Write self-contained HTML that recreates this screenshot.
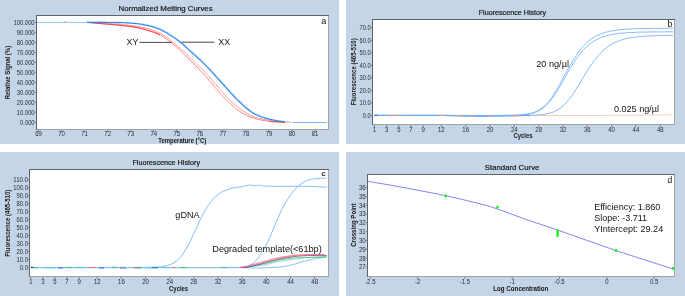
<!DOCTYPE html>
<html><head><meta charset="utf-8"><style>
html,body{margin:0;padding:0;background:#fff;}
body{width:685px;height:296px;overflow:hidden;font-family:"Liberation Sans", sans-serif;}
svg{display:block;will-change:transform;}
</style></head><body>
<svg width="685" height="296" viewBox="0 0 685 296" font-family='"Liberation Sans", sans-serif'>
<rect width="685" height="296" fill="#fff"/>
<rect x="0" y="0" width="339" height="144" fill="#c4d5e7"/>
<rect x="346" y="0" width="339" height="144" fill="#c4d5e7"/>
<rect x="0" y="152" width="339" height="144" fill="#c4d5e7"/>
<rect x="346" y="152" width="339" height="144" fill="#c4d5e7"/>
<text x="165.60" y="11.20" font-size="7.40" text-anchor="middle" font-weight="normal" fill="#141414" textLength="94.00" lengthAdjust="spacingAndGlyphs" stroke="#141414" stroke-width="0.18">Normalized Melting Curves</text>
<rect x="36" y="15" width="293" height="115" fill="#fff"/>
<path d="M36.0,15.5 H329.0 M36.5,15.0 V130.0" stroke="#5f6266" stroke-width="1" fill="none"/>
<path d="M37.0,129.5 H329.0 M328.5,16.0 V130.0" stroke="#a0a2a6" stroke-width="1" fill="none"/>
<path d="M34.5,22.40 H36.5 M34.5,32.38 H36.5 M34.5,42.36 H36.5 M34.5,52.34 H36.5 M34.5,62.32 H36.5 M34.5,72.30 H36.5 M34.5,82.28 H36.5 M34.5,92.26 H36.5 M34.5,102.24 H36.5 M34.5,112.22 H36.5 M34.5,122.20 H36.5 " stroke="#707070" stroke-width="0.8"/>
<text x="34.60" y="24.70" font-size="6.40" text-anchor="end" font-weight="normal" fill="#2a2d33" textLength="20.96" lengthAdjust="spacingAndGlyphs">100.000</text>
<text x="34.60" y="34.68" font-size="6.40" text-anchor="end" font-weight="normal" fill="#2a2d33" textLength="17.74" lengthAdjust="spacingAndGlyphs">90.000</text>
<text x="34.60" y="44.66" font-size="6.40" text-anchor="end" font-weight="normal" fill="#2a2d33" textLength="17.74" lengthAdjust="spacingAndGlyphs">80.000</text>
<text x="34.60" y="54.64" font-size="6.40" text-anchor="end" font-weight="normal" fill="#2a2d33" textLength="17.74" lengthAdjust="spacingAndGlyphs">70.000</text>
<text x="34.60" y="64.62" font-size="6.40" text-anchor="end" font-weight="normal" fill="#2a2d33" textLength="17.74" lengthAdjust="spacingAndGlyphs">60.000</text>
<text x="34.60" y="74.60" font-size="6.40" text-anchor="end" font-weight="normal" fill="#2a2d33" textLength="17.74" lengthAdjust="spacingAndGlyphs">50.000</text>
<text x="34.60" y="84.58" font-size="6.40" text-anchor="end" font-weight="normal" fill="#2a2d33" textLength="17.74" lengthAdjust="spacingAndGlyphs">40.000</text>
<text x="34.60" y="94.56" font-size="6.40" text-anchor="end" font-weight="normal" fill="#2a2d33" textLength="17.74" lengthAdjust="spacingAndGlyphs">30.000</text>
<text x="34.60" y="104.54" font-size="6.40" text-anchor="end" font-weight="normal" fill="#2a2d33" textLength="17.74" lengthAdjust="spacingAndGlyphs">20.000</text>
<text x="34.60" y="114.52" font-size="6.40" text-anchor="end" font-weight="normal" fill="#2a2d33" textLength="17.74" lengthAdjust="spacingAndGlyphs">10.000</text>
<text x="34.60" y="124.50" font-size="6.40" text-anchor="end" font-weight="normal" fill="#2a2d33" textLength="14.51" lengthAdjust="spacingAndGlyphs">0.000</text>
<path d="M38.50,130.0 V132.0 M61.55,130.0 V132.0 M84.60,130.0 V132.0 M107.65,130.0 V132.0 M130.70,130.0 V132.0 M153.75,130.0 V132.0 M176.80,130.0 V132.0 M199.85,130.0 V132.0 M222.90,130.0 V132.0 M245.95,130.0 V132.0 M269.00,130.0 V132.0 M292.05,130.0 V132.0 M315.10,130.0 V132.0 " stroke="#707070" stroke-width="0.8"/>
<text x="38.50" y="136.40" font-size="7.00" text-anchor="middle" font-weight="normal" fill="#2a2d33" textLength="6.67" lengthAdjust="spacingAndGlyphs">69</text>
<text x="61.55" y="136.40" font-size="7.00" text-anchor="middle" font-weight="normal" fill="#2a2d33" textLength="6.67" lengthAdjust="spacingAndGlyphs">70</text>
<text x="84.60" y="136.40" font-size="7.00" text-anchor="middle" font-weight="normal" fill="#2a2d33" textLength="6.67" lengthAdjust="spacingAndGlyphs">71</text>
<text x="107.65" y="136.40" font-size="7.00" text-anchor="middle" font-weight="normal" fill="#2a2d33" textLength="6.67" lengthAdjust="spacingAndGlyphs">72</text>
<text x="130.70" y="136.40" font-size="7.00" text-anchor="middle" font-weight="normal" fill="#2a2d33" textLength="6.67" lengthAdjust="spacingAndGlyphs">73</text>
<text x="153.75" y="136.40" font-size="7.00" text-anchor="middle" font-weight="normal" fill="#2a2d33" textLength="6.67" lengthAdjust="spacingAndGlyphs">74</text>
<text x="176.80" y="136.40" font-size="7.00" text-anchor="middle" font-weight="normal" fill="#2a2d33" textLength="6.67" lengthAdjust="spacingAndGlyphs">75</text>
<text x="199.85" y="136.40" font-size="7.00" text-anchor="middle" font-weight="normal" fill="#2a2d33" textLength="6.67" lengthAdjust="spacingAndGlyphs">76</text>
<text x="222.90" y="136.40" font-size="7.00" text-anchor="middle" font-weight="normal" fill="#2a2d33" textLength="6.67" lengthAdjust="spacingAndGlyphs">77</text>
<text x="245.95" y="136.40" font-size="7.00" text-anchor="middle" font-weight="normal" fill="#2a2d33" textLength="6.67" lengthAdjust="spacingAndGlyphs">78</text>
<text x="269.00" y="136.40" font-size="7.00" text-anchor="middle" font-weight="normal" fill="#2a2d33" textLength="6.67" lengthAdjust="spacingAndGlyphs">79</text>
<text x="292.05" y="136.40" font-size="7.00" text-anchor="middle" font-weight="normal" fill="#2a2d33" textLength="6.67" lengthAdjust="spacingAndGlyphs">80</text>
<text x="315.10" y="136.40" font-size="7.00" text-anchor="middle" font-weight="normal" fill="#2a2d33" textLength="6.67" lengthAdjust="spacingAndGlyphs">81</text>
<text x="182.30" y="142.60" font-size="6.40" text-anchor="middle" font-weight="bold" fill="#141414" textLength="48.00" lengthAdjust="spacingAndGlyphs">Temperature (°C)</text>
<text transform="translate(10.00,72.60) rotate(-90)" x="0" y="0" font-size="7.00" text-anchor="middle" font-weight="bold" fill="#141414" textLength="53.50" lengthAdjust="spacingAndGlyphs">Relative Signal (%)</text>
<text x="326.20" y="23.60" font-size="9.00" text-anchor="end" font-weight="normal" fill="#141414">a</text>
<path d="M37,22.4 H88" stroke="#8ec3f5" stroke-width="1" fill="none"/>
<path d="M64.3,21.8 H66" stroke="#f08080" stroke-width="0.8" fill="none"/>
<path d="M87.0,22.4 L88.0,22.5 L89.0,22.6 L90.0,22.6 L91.0,22.7 L92.0,22.8 L93.0,22.9 L94.0,23.0 L95.0,23.1 L96.0,23.2 L97.0,23.2 L98.0,23.3 L99.0,23.4 L100.0,23.5 L101.0,23.6 L102.0,23.7 L103.0,23.8 L104.0,23.8 L105.0,23.9 L106.0,24.0 L107.0,24.1 L108.0,24.2 L109.0,24.3 L110.0,24.4 L111.0,24.4 L112.0,24.5 L113.0,24.6 L114.0,24.7 L115.0,24.8 L116.0,24.9 L117.0,25.0 L118.0,25.1 L119.0,25.2 L120.0,25.3 L121.0,25.4 L122.0,25.5 L123.0,25.6 L124.0,25.7 L125.0,25.8 L126.0,25.9 L127.0,26.1 L128.0,26.2 L129.0,26.3 L130.0,26.4 L131.0,26.6 L132.0,26.7 L133.0,26.9 L134.0,27.0 L135.0,27.2 L136.0,27.4 L137.0,27.6 L138.0,27.8 L139.0,28.0 L140.0,28.2 L141.0,28.4 L142.0,28.7 L143.0,29.0 L144.0,29.2 L145.0,29.5 L146.0,29.8 L147.0,30.1 L148.0,30.4 L149.0,30.7 L150.0,31.0 L151.0,31.3 L152.0,31.6 L153.0,32.0 L154.0,32.3 L155.0,32.7 L156.0,33.1 L157.0,33.5 L158.0,34.0 L159.0,34.4 L160.0,34.9 L161.0,35.4 L162.0,36.0 L163.0,36.7 L164.0,37.4 L165.0,38.1 L166.0,38.8 L167.0,39.6 L168.0,40.3 L169.0,41.0 L170.0,41.8 L171.0,42.6 L172.0,43.4 L173.0,44.3 L174.0,45.1 L175.0,46.0 L176.0,46.8 L177.0,47.7 L178.0,48.6 L179.0,49.5 L180.0,50.5 L181.0,51.4 L182.0,52.4 L183.0,53.3 L184.0,54.3 L185.0,55.3 L186.0,56.2 L187.0,57.2 L188.0,58.2 L189.0,59.1 L190.0,60.1 L191.0,61.0 L192.0,62.0 L193.0,63.0 L194.0,64.0 L195.0,65.0 L196.0,66.0 L197.0,67.0 L198.0,68.1 L199.0,69.1 L200.0,70.2 L201.0,71.2 L202.0,72.3 L203.0,73.4 L204.0,74.5 L205.0,75.6 L206.0,76.7 L207.0,77.9 L208.0,79.0 L209.0,80.2 L210.0,81.4 L211.0,82.5 L212.0,83.7 L213.0,84.9 L214.0,86.1 L215.0,87.3 L216.0,88.5 L217.0,89.7 L218.0,90.9 L219.0,92.0 L220.0,93.2 L221.0,94.3 L222.0,95.3 L223.0,96.4 L224.0,97.4 L225.0,98.5 L226.0,99.5 L227.0,100.5 L228.0,101.4 L229.0,102.4 L230.0,103.3 L231.0,104.3 L232.0,105.2 L233.0,106.1 L234.0,107.0 L235.0,107.8 L236.0,108.6 L237.0,109.3 L238.0,110.1 L239.0,110.8 L240.0,111.5 L241.0,112.1 L242.0,112.8 L243.0,113.4 L244.0,113.9 L245.0,114.5 L246.0,114.9 L247.0,115.4 L248.0,115.9 L249.0,116.3 L250.0,116.8 L251.0,117.2 L252.0,117.5 L253.0,117.9 L254.0,118.2 L255.0,118.5 L256.0,118.8 L257.0,119.1 L258.0,119.3 L259.0,119.6 L260.0,119.8 L261.0,120.0 L262.0,120.2 L263.0,120.4 L264.0,120.6 L265.0,120.7 L266.0,120.9 L267.0,121.0 L268.0,121.2 L269.0,121.3 L270.0,121.4 L271.0,121.5 L272.0,121.7 L273.0,121.8 L274.0,121.8 L275.0,121.9 L276.0,121.9 L277.0,122.0 L278.0,122.0 L279.0,122.0 L280.0,122.0 L281.0,122.1 L282.0,122.1 L283.0,122.1 L284.0,122.1 L285.0,122.2 L286.0,122.2 L287.0,122.2 L288.0,122.2 L289.0,122.2 L290.0,122.2 L291.0,122.2" stroke="#ff7070" stroke-width="0.85" fill="none"/>
<path d="M87.0,22.4 L88.0,22.4 L89.0,22.5 L90.0,22.5 L91.0,22.6 L92.0,22.6 L93.0,22.6 L94.0,22.7 L95.0,22.8 L96.0,22.8 L97.0,22.8 L98.0,22.9 L99.0,22.9 L100.0,23.0 L101.0,23.1 L102.0,23.1 L103.0,23.2 L104.0,23.2 L105.0,23.3 L106.0,23.3 L107.0,23.4 L108.0,23.4 L109.0,23.5 L110.0,23.6 L111.0,23.6 L112.0,23.7 L113.0,23.8 L114.0,23.8 L115.0,23.9 L116.0,24.0 L117.0,24.1 L118.0,24.1 L119.0,24.2 L120.0,24.3 L121.0,24.4 L122.0,24.5 L123.0,24.6 L124.0,24.7 L125.0,24.8 L126.0,24.9 L127.0,25.0 L128.0,25.1 L129.0,25.2 L130.0,25.3 L131.0,25.4 L132.0,25.6 L133.0,25.7 L134.0,25.9 L135.0,26.0 L136.0,26.1 L137.0,26.3 L138.0,26.5 L139.0,26.7 L140.0,26.9 L141.0,27.1 L142.0,27.3 L143.0,27.5 L144.0,27.7 L145.0,28.0 L146.0,28.2 L147.0,28.5 L148.0,28.7 L149.0,29.0 L150.0,29.3 L151.0,29.6 L152.0,29.9 L153.0,30.3 L154.0,30.7 L155.0,31.1 L156.0,31.5 L157.0,32.0 L158.0,32.4 L159.0,32.9 L160.0,33.4 L161.0,33.9 L162.0,34.5 L163.0,35.1 L164.0,35.7 L165.0,36.4 L166.0,37.0 L167.0,37.7 L168.0,38.5 L169.0,39.2 L170.0,39.9 L171.0,40.6 L172.0,41.4 L173.0,42.2 L174.0,43.0 L175.0,43.9 L176.0,44.7 L177.0,45.6 L178.0,46.5 L179.0,47.4 L180.0,48.2 L181.0,49.1 L182.0,50.0 L183.0,50.9 L184.0,51.8 L185.0,52.6 L186.0,53.6 L187.0,54.5 L188.0,55.4 L189.0,56.3 L190.0,57.3 L191.0,58.3 L192.0,59.3 L193.0,60.3 L194.0,61.3 L195.0,62.3 L196.0,63.3 L197.0,64.3 L198.0,65.2 L199.0,66.2 L200.0,67.2 L201.0,68.2 L202.0,69.2 L203.0,70.2 L204.0,71.2 L205.0,72.3 L206.0,73.4 L207.0,74.5 L208.0,75.6 L209.0,76.7 L210.0,77.8 L211.0,79.0 L212.0,80.1 L213.0,81.3 L214.0,82.4 L215.0,83.6 L216.0,84.8 L217.0,86.0 L218.0,87.2 L219.0,88.3 L220.0,89.5 L221.0,90.6 L222.0,91.7 L223.0,92.8 L224.0,94.0 L225.0,95.1 L226.0,96.1 L227.0,97.2 L228.0,98.2 L229.0,99.2 L230.0,100.1 L231.0,101.0 L232.0,101.9 L233.0,102.8 L234.0,103.7 L235.0,104.5 L236.0,105.3 L237.0,106.2 L238.0,107.0 L239.0,107.8 L240.0,108.6 L241.0,109.4 L242.0,110.1 L243.0,110.8 L244.0,111.5 L245.0,112.1 L246.0,112.7 L247.0,113.3 L248.0,113.8 L249.0,114.3 L250.0,114.9 L251.0,115.3 L252.0,115.8 L253.0,116.2 L254.0,116.6 L255.0,117.0 L256.0,117.3 L257.0,117.7 L258.0,118.0 L259.0,118.3 L260.0,118.5 L261.0,118.8 L262.0,119.0 L263.0,119.3 L264.0,119.5 L265.0,119.7 L266.0,119.9 L267.0,120.1 L268.0,120.3 L269.0,120.5 L270.0,120.7 L271.0,120.8 L272.0,121.0 L273.0,121.1 L274.0,121.3 L275.0,121.4 L276.0,121.4 L277.0,121.5 L278.0,121.6 L279.0,121.7 L280.0,121.7 L281.0,121.8 L282.0,121.8 L283.0,121.9 L284.0,121.9 L285.0,122.0 L286.0,122.0 L287.0,122.0 L288.0,122.1 L289.0,122.1" stroke="#ff8a8a" stroke-width="0.85" fill="none"/>
<path d="M270,121.3 Q278,122.1 285,122.2" stroke="#f03030" stroke-width="0.8" fill="none"/>
<path d="M87.0,22.4 L88.0,22.5 L89.0,22.6 L90.0,22.6 L91.0,22.7 L92.0,22.8 L93.0,22.9 L94.0,23.0 L95.0,23.1 L96.0,23.2 L97.0,23.2 L98.0,23.3 L99.0,23.4 L100.0,23.5 L101.0,23.6 L102.0,23.7 L103.0,23.8 L104.0,23.8 L105.0,23.9 L106.0,24.0 L107.0,24.1 L108.0,24.2 L109.0,24.3 L110.0,24.4 L111.0,24.4 L112.0,24.5 L113.0,24.6 L114.0,24.7 L115.0,24.8 L116.0,24.9 L117.0,25.0 L118.0,25.1 L119.0,25.2 L120.0,25.3 L121.0,25.4 L122.0,25.5 L123.0,25.6 L124.0,25.7 L125.0,25.8 L126.0,25.9 L127.0,26.1 L128.0,26.2 L129.0,26.3 L130.0,26.4 L131.0,26.6 L132.0,26.7 L133.0,26.9 L134.0,27.0 L135.0,27.2 L136.0,27.4 L137.0,27.6 L138.0,27.8 L139.0,28.0 L140.0,28.2 L141.0,28.4 L142.0,28.7 L143.0,29.0 L144.0,29.2 L145.0,29.5 L146.0,29.8 L147.0,30.1 L148.0,30.4 L149.0,30.7 L150.0,31.0 L151.0,31.3 L152.0,31.6 L153.0,32.0 L154.0,32.3 L155.0,32.7 L156.0,33.1 L157.0,33.5 L158.0,34.0 L159.0,34.4 L160.0,34.9" stroke="#ff3a3a" stroke-width="0.9" fill="none"/>
<path d="M88.3,22.1 L89.3,22.1 L90.3,22.1 L91.3,22.1 L92.3,22.1 L93.3,22.1 L94.3,22.1 L95.3,22.1 L96.3,22.1 L97.3,22.1 L98.3,22.1 L99.3,22.1 L100.3,22.1 L101.3,22.1 L102.3,22.1 L103.3,22.1 L104.3,22.1 L105.3,22.1 L106.3,22.1 L107.3,22.1 L108.3,22.2 L109.3,22.2 L110.3,22.2 L111.3,22.2 L112.3,22.2 L113.3,22.2 L114.3,22.2 L115.3,22.2 L116.3,22.2 L117.3,22.2 L118.3,22.2 L119.3,22.3 L120.3,22.3 L121.3,22.3 L122.3,22.3 L123.3,22.3 L124.3,22.4 L125.3,22.4 L126.3,22.5 L127.3,22.5 L128.3,22.6 L129.3,22.6 L130.3,22.7 L131.3,22.8 L132.3,22.9 L133.3,22.9 L134.3,23.0 L135.3,23.1 L136.3,23.2 L137.3,23.3 L138.3,23.4 L139.3,23.5 L140.3,23.7 L141.3,23.8 L142.3,24.0 L143.3,24.1 L144.3,24.3 L145.3,24.5 L146.3,24.7 L147.3,24.9 L148.3,25.1 L149.3,25.3 L150.3,25.6 L151.3,25.8 L152.3,26.0 L153.3,26.3 L154.3,26.6 L155.3,26.9 L156.3,27.2 L157.3,27.6 L158.3,27.9 L159.3,28.3 L160.3,28.7 L161.3,29.1 L162.3,29.6 L163.3,30.1 L164.3,30.6 L165.3,31.2 L166.3,31.7 L167.3,32.3 L168.3,32.9 L169.3,33.5 L170.3,34.1 L171.3,34.8 L172.3,35.4 L173.3,36.1 L174.3,36.8 L175.3,37.4 L176.3,38.1 L177.3,38.8 L178.3,39.5 L179.3,40.2 L180.3,41.0 L181.3,41.7 L182.3,42.5 L183.3,43.3 L184.3,44.2 L185.3,45.1 L186.3,46.0 L187.3,46.9 L188.3,47.9 L189.3,48.8 L190.3,49.8 L191.3,50.7 L192.3,51.6 L193.3,52.5 L194.3,53.4 L195.3,54.2 L196.3,55.1 L197.3,56.0 L198.3,56.9 L199.3,57.8 L200.3,58.7 L201.3,59.6 L202.3,60.6 L203.3,61.5 L204.3,62.5 L205.3,63.5 L206.3,64.5 L207.3,65.5 L208.3,66.5 L209.3,67.6 L210.3,68.6 L211.3,69.7 L212.3,70.8 L213.3,71.9 L214.3,73.0 L215.3,74.1 L216.3,75.2 L217.3,76.3 L218.3,77.4 L219.3,78.5 L220.3,79.6 L221.3,80.7 L222.3,81.8 L223.3,82.9 L224.3,84.0 L225.3,85.2 L226.3,86.3 L227.3,87.4 L228.3,88.5 L229.3,89.6 L230.3,90.7 L231.3,91.9 L232.3,93.0 L233.3,94.1 L234.3,95.1 L235.3,96.2 L236.3,97.2 L237.3,98.3 L238.3,99.3 L239.3,100.3 L240.3,101.2 L241.3,102.2 L242.3,103.1 L243.3,104.1 L244.3,105.0 L245.3,105.8 L246.3,106.7 L247.3,107.5 L248.3,108.4 L249.3,109.2 L250.3,110.0 L251.3,110.8 L252.3,111.5 L253.3,112.1 L254.3,112.7 L255.3,113.3 L256.3,113.9 L257.3,114.4 L258.3,114.8 L259.3,115.3 L260.3,115.7 L261.3,116.1 L262.3,116.5 L263.3,116.8 L264.3,117.2 L265.3,117.5 L266.3,117.8 L267.3,118.1 L268.3,118.3 L269.3,118.6 L270.3,118.9 L271.3,119.1 L272.3,119.3 L273.3,119.5 L274.3,119.7 L275.3,119.9 L276.3,120.1 L277.3,120.3 L278.3,120.5 L279.3,120.6 L280.3,120.8 L281.3,120.9 L282.3,121.0 L283.3,121.2" stroke="#acd2fa" stroke-width="0.9" fill="none"/>
<path d="M87.0,22.4 L88.0,22.4 L89.0,22.4 L90.0,22.4 L91.0,22.4 L92.0,22.4 L93.0,22.4 L94.0,22.4 L95.0,22.4 L96.0,22.4 L97.0,22.4 L98.0,22.4 L99.0,22.4 L100.0,22.4 L101.0,22.4 L102.0,22.4 L103.0,22.4 L104.0,22.4 L105.0,22.4 L106.0,22.4 L107.0,22.5 L108.0,22.5 L109.0,22.5 L110.0,22.5 L111.0,22.5 L112.0,22.5 L113.0,22.5 L114.0,22.5 L115.0,22.5 L116.0,22.5 L117.0,22.6 L118.0,22.6 L119.0,22.6 L120.0,22.6 L121.0,22.6 L122.0,22.6 L123.0,22.7 L124.0,22.7 L125.0,22.8 L126.0,22.8 L127.0,22.9 L128.0,22.9 L129.0,23.0 L130.0,23.1 L131.0,23.2 L132.0,23.2 L133.0,23.3 L134.0,23.4 L135.0,23.5 L136.0,23.6 L137.0,23.7 L138.0,23.8 L139.0,24.0 L140.0,24.1 L141.0,24.3 L142.0,24.4 L143.0,24.6 L144.0,24.8 L145.0,25.0 L146.0,25.2 L147.0,25.4 L148.0,25.6 L149.0,25.9 L150.0,26.1 L151.0,26.3 L152.0,26.6 L153.0,26.9 L154.0,27.2 L155.0,27.5 L156.0,27.9 L157.0,28.2 L158.0,28.6 L159.0,29.0 L160.0,29.4 L161.0,29.9 L162.0,30.4 L163.0,30.9 L164.0,31.5 L165.0,32.0 L166.0,32.6 L167.0,33.1 L168.0,33.8 L169.0,34.4 L170.0,35.0 L171.0,35.7 L172.0,36.4 L173.0,37.1 L174.0,37.7 L175.0,38.4 L176.0,39.1 L177.0,39.8 L178.0,40.5 L179.0,41.3 L180.0,42.0 L181.0,42.8 L182.0,43.6 L183.0,44.5 L184.0,45.4 L185.0,46.3 L186.0,47.2 L187.0,48.2 L188.0,49.1 L189.0,50.1 L190.0,51.0 L191.0,51.9 L192.0,52.8 L193.0,53.7 L194.0,54.5 L195.0,55.4 L196.0,56.3 L197.0,57.2 L198.0,58.1 L199.0,59.0 L200.0,59.9 L201.0,60.9 L202.0,61.8 L203.0,62.8 L204.0,63.8 L205.0,64.8 L206.0,65.8 L207.0,66.8 L208.0,67.9 L209.0,68.9 L210.0,70.0 L211.0,71.1 L212.0,72.2 L213.0,73.3 L214.0,74.4 L215.0,75.5 L216.0,76.6 L217.0,77.7 L218.0,78.8 L219.0,79.9 L220.0,81.0 L221.0,82.1 L222.0,83.2 L223.0,84.3 L224.0,85.5 L225.0,86.6 L226.0,87.7 L227.0,88.8 L228.0,89.9 L229.0,91.0 L230.0,92.2 L231.0,93.3 L232.0,94.4 L233.0,95.4 L234.0,96.5 L235.0,97.5 L236.0,98.6 L237.0,99.6 L238.0,100.6 L239.0,101.5 L240.0,102.5 L241.0,103.4 L242.0,104.4 L243.0,105.3 L244.0,106.1 L245.0,107.0 L246.0,107.8 L247.0,108.7 L248.0,109.5 L249.0,110.3 L250.0,111.1 L251.0,111.8 L252.0,112.4 L253.0,113.0 L254.0,113.6 L255.0,114.2 L256.0,114.7 L257.0,115.1 L258.0,115.6 L259.0,116.0 L260.0,116.4 L261.0,116.8 L262.0,117.1 L263.0,117.5 L264.0,117.8 L265.0,118.1 L266.0,118.4 L267.0,118.6 L268.0,118.9 L269.0,119.2 L270.0,119.4 L271.0,119.6 L272.0,119.8 L273.0,120.0 L274.0,120.2 L275.0,120.4 L276.0,120.6 L277.0,120.8 L278.0,120.9 L279.0,121.1 L280.0,121.2 L281.0,121.3 L282.0,121.5 L283.0,121.6 L284.0,121.7 L285.0,121.8" stroke="#2a88f4" stroke-width="1.15" fill="none"/>
<path d="M285,121.9 L294,122.3" stroke="#d4e6fb" stroke-width="1.1" fill="none"/>
<path d="M293,122.4 H294.6" stroke="#e05050" stroke-width="0.9" fill="none"/>
<path d="M294.6,122.5 H326.6" stroke="#6eaef6" stroke-width="0.9" fill="none"/>
<text x="132.40" y="45.30" font-size="9.00" text-anchor="middle" font-weight="normal" fill="#141414" textLength="11.80" lengthAdjust="spacingAndGlyphs">XY</text>
<text x="224.20" y="45.30" font-size="9.00" text-anchor="middle" font-weight="normal" fill="#141414" textLength="11.80" lengthAdjust="spacingAndGlyphs">XX</text>
<path d="M139.3,42.4 H171.7 M181.8,42.2 H214.3" stroke="#333" stroke-width="0.9" fill="none"/>
<text x="512.40" y="15.20" font-size="7.20" text-anchor="middle" font-weight="normal" fill="#141414" textLength="67.40" lengthAdjust="spacingAndGlyphs" stroke="#141414" stroke-width="0.18">Fluorescence History</text>
<rect x="372" y="19" width="303" height="106" fill="#fff"/>
<path d="M372.0,19.5 H675.0 M372.5,19.0 V125.0" stroke="#5f6266" stroke-width="1" fill="none"/>
<path d="M373.0,124.5 H675.0 M674.5,20.0 V125.0" stroke="#a0a2a6" stroke-width="1" fill="none"/>
<path d="M370.5,27.80 H372.5 M370.5,40.33 H372.5 M370.5,52.86 H372.5 M370.5,65.39 H372.5 M370.5,77.92 H372.5 M370.5,90.45 H372.5 M370.5,102.98 H372.5 M370.5,115.51 H372.5 " stroke="#707070" stroke-width="0.8"/>
<text x="370.60" y="30.18" font-size="6.60" text-anchor="end" font-weight="normal" fill="#2a2d33" textLength="11.09" lengthAdjust="spacingAndGlyphs">70.0</text>
<text x="370.60" y="42.71" font-size="6.60" text-anchor="end" font-weight="normal" fill="#2a2d33" textLength="11.09" lengthAdjust="spacingAndGlyphs">60.0</text>
<text x="370.60" y="55.24" font-size="6.60" text-anchor="end" font-weight="normal" fill="#2a2d33" textLength="11.09" lengthAdjust="spacingAndGlyphs">50.0</text>
<text x="370.60" y="67.77" font-size="6.60" text-anchor="end" font-weight="normal" fill="#2a2d33" textLength="11.09" lengthAdjust="spacingAndGlyphs">40.0</text>
<text x="370.60" y="80.30" font-size="6.60" text-anchor="end" font-weight="normal" fill="#2a2d33" textLength="11.09" lengthAdjust="spacingAndGlyphs">30.0</text>
<text x="370.60" y="92.83" font-size="6.60" text-anchor="end" font-weight="normal" fill="#2a2d33" textLength="11.09" lengthAdjust="spacingAndGlyphs">20.0</text>
<text x="370.60" y="105.36" font-size="6.60" text-anchor="end" font-weight="normal" fill="#2a2d33" textLength="11.09" lengthAdjust="spacingAndGlyphs">10.0</text>
<text x="370.60" y="117.89" font-size="6.60" text-anchor="end" font-weight="normal" fill="#2a2d33" textLength="7.92" lengthAdjust="spacingAndGlyphs">0.0</text>
<path d="M374.50,125.0 V127.0 M386.66,125.0 V127.0 M398.82,125.0 V127.0 M410.98,125.0 V127.0 M423.14,125.0 V127.0 M441.38,125.0 V127.0 M465.70,125.0 V127.0 M490.02,125.0 V127.0 M514.34,125.0 V127.0 M538.66,125.0 V127.0 M562.98,125.0 V127.0 M587.30,125.0 V127.0 M611.62,125.0 V127.0 M635.94,125.0 V127.0 M660.26,125.0 V127.0 " stroke="#707070" stroke-width="0.8"/>
<text x="374.50" y="132.20" font-size="7.00" text-anchor="middle" font-weight="normal" fill="#2a2d33" textLength="3.34" lengthAdjust="spacingAndGlyphs">1</text>
<text x="386.66" y="132.20" font-size="7.00" text-anchor="middle" font-weight="normal" fill="#2a2d33" textLength="3.34" lengthAdjust="spacingAndGlyphs">3</text>
<text x="398.82" y="132.20" font-size="7.00" text-anchor="middle" font-weight="normal" fill="#2a2d33" textLength="3.34" lengthAdjust="spacingAndGlyphs">5</text>
<text x="410.98" y="132.20" font-size="7.00" text-anchor="middle" font-weight="normal" fill="#2a2d33" textLength="3.34" lengthAdjust="spacingAndGlyphs">7</text>
<text x="423.14" y="132.20" font-size="7.00" text-anchor="middle" font-weight="normal" fill="#2a2d33" textLength="3.34" lengthAdjust="spacingAndGlyphs">9</text>
<text x="441.38" y="132.20" font-size="7.00" text-anchor="middle" font-weight="normal" fill="#2a2d33" textLength="6.67" lengthAdjust="spacingAndGlyphs">12</text>
<text x="465.70" y="132.20" font-size="7.00" text-anchor="middle" font-weight="normal" fill="#2a2d33" textLength="6.67" lengthAdjust="spacingAndGlyphs">16</text>
<text x="490.02" y="132.20" font-size="7.00" text-anchor="middle" font-weight="normal" fill="#2a2d33" textLength="6.67" lengthAdjust="spacingAndGlyphs">20</text>
<text x="514.34" y="132.20" font-size="7.00" text-anchor="middle" font-weight="normal" fill="#2a2d33" textLength="6.67" lengthAdjust="spacingAndGlyphs">24</text>
<text x="538.66" y="132.20" font-size="7.00" text-anchor="middle" font-weight="normal" fill="#2a2d33" textLength="6.67" lengthAdjust="spacingAndGlyphs">28</text>
<text x="562.98" y="132.20" font-size="7.00" text-anchor="middle" font-weight="normal" fill="#2a2d33" textLength="6.67" lengthAdjust="spacingAndGlyphs">32</text>
<text x="587.30" y="132.20" font-size="7.00" text-anchor="middle" font-weight="normal" fill="#2a2d33" textLength="6.67" lengthAdjust="spacingAndGlyphs">36</text>
<text x="611.62" y="132.20" font-size="7.00" text-anchor="middle" font-weight="normal" fill="#2a2d33" textLength="6.67" lengthAdjust="spacingAndGlyphs">40</text>
<text x="635.94" y="132.20" font-size="7.00" text-anchor="middle" font-weight="normal" fill="#2a2d33" textLength="6.67" lengthAdjust="spacingAndGlyphs">44</text>
<text x="660.26" y="132.20" font-size="7.00" text-anchor="middle" font-weight="normal" fill="#2a2d33" textLength="6.67" lengthAdjust="spacingAndGlyphs">48</text>
<text x="523.00" y="138.40" font-size="6.40" text-anchor="middle" font-weight="bold" fill="#141414" textLength="19.00" lengthAdjust="spacingAndGlyphs">Cycles</text>
<text transform="translate(355.80,71.80) rotate(-90)" x="0" y="0" font-size="6.80" text-anchor="middle" font-weight="bold" fill="#141414" textLength="67.00" lengthAdjust="spacingAndGlyphs">Fluorescence (465-510)</text>
<text x="672.60" y="26.60" font-size="9.00" text-anchor="end" font-weight="normal" fill="#141414">b</text>
<path d="M374,115.7 L520,115.6 L600,115.4 L650,115.1 L673,114.8" stroke="#ffc0a8" stroke-width="0.8" fill="none"/>
<path d="M374.0,115.5 L376.0,115.5 L378.0,115.5 L380.0,115.5 L382.0,115.5 L384.0,115.5 L386.0,115.5 L388.0,115.5 L390.0,115.5 L392.0,115.5 L394.0,115.5 L396.0,115.5 L398.0,115.5 L400.0,115.5 L402.0,115.5 L404.0,115.5 L406.0,115.5 L408.0,115.5 L410.0,115.5 L412.0,115.5 L414.0,115.5 L416.0,115.5 L418.0,115.5 L420.0,115.5 L422.0,115.5 L424.0,115.5 L426.0,115.5 L428.0,115.5 L430.0,115.5 L432.0,115.5 L434.0,115.5 L436.0,115.5 L438.0,115.5 L440.0,115.5 L442.0,115.5 L444.0,115.5 L446.0,115.5 L448.0,115.5 L450.0,115.5 L452.0,115.5 L454.0,115.5 L456.0,115.5 L458.0,115.5 L460.0,115.5 L462.0,115.5 L464.0,115.5 L466.0,115.5 L468.0,115.5 L470.0,115.5 L472.0,115.5 L474.0,115.5 L476.0,115.5 L478.0,115.5 L480.0,115.5 L482.0,115.5 L484.0,115.5 L486.0,115.5 L488.0,115.5 L490.0,115.5 L492.0,115.5 L494.0,115.5 L496.0,115.5 L498.0,115.5 L500.0,115.5 L502.0,115.5 L504.0,115.5 L506.0,115.5 L508.0,115.5 L510.0,115.5 L512.0,115.5 L514.0,115.5 L516.0,115.5 L518.0,115.5 L520.0,115.5 L522.0,115.4 L524.0,115.4 L526.0,115.4 L528.0,115.4 L530.0,115.3 L532.0,115.3 L534.0,115.2 L536.0,115.1 L538.0,115.0 L540.0,114.8 L542.0,114.6 L544.0,114.4 L546.0,114.1 L548.0,113.6 L550.0,113.1 L552.0,112.5 L554.0,111.7 L556.0,110.8 L558.0,109.7 L560.0,108.4 L562.0,106.8 L564.0,105.0 L566.0,103.0 L568.0,100.7 L570.0,98.2 L572.0,95.4 L574.0,92.5 L576.0,89.4 L578.0,86.2 L580.0,82.9 L582.0,79.5 L584.0,76.2 L586.0,72.9 L588.0,69.7 L590.0,66.6 L592.0,63.6 L594.0,60.9 L596.0,58.3 L598.0,55.9 L600.0,53.7 L602.0,51.6 L604.0,49.8 L606.0,48.1 L608.0,46.6 L610.0,45.3 L612.0,44.1 L614.0,43.0 L616.0,42.0 L618.0,41.2 L620.0,40.5 L622.0,39.8 L624.0,39.2 L626.0,38.7 L628.0,38.3 L630.0,37.9 L632.0,37.5 L634.0,37.2 L636.0,37.0 L638.0,36.8 L640.0,36.6 L642.0,36.4 L644.0,36.2 L646.0,36.1 L648.0,36.0 L650.0,35.9 L652.0,35.8 L654.0,35.7 L656.0,35.6 L658.0,35.6 L660.0,35.5 L662.0,35.5 L664.0,35.5 L666.0,35.4 L668.0,35.4 L670.0,35.4 L673.0,35.3" stroke="#7db6f6" stroke-width="0.9" fill="none"/>
<path d="M374.0,115.5 L376.0,115.5 L378.0,115.5 L380.0,115.5 L382.0,115.5 L384.0,115.5 L386.0,115.5 L388.0,115.5 L390.0,115.5 L392.0,115.5 L394.0,115.5 L396.0,115.5 L398.0,115.5 L400.0,115.5 L402.0,115.5 L404.0,115.5 L406.0,115.5 L408.0,115.5 L410.0,115.5 L412.0,115.5 L414.0,115.5 L416.0,115.5 L418.0,115.5 L420.0,115.5 L422.0,115.5 L424.0,115.5 L426.0,115.5 L428.0,115.5 L430.0,115.5 L432.0,115.5 L434.0,115.5 L436.0,115.5 L438.0,115.5 L440.0,115.5 L442.0,115.5 L444.0,115.5 L446.0,115.5 L448.0,115.5 L450.0,115.5 L452.0,115.5 L454.0,115.5 L456.0,115.5 L458.0,115.5 L460.0,115.5 L462.0,115.5 L464.0,115.5 L466.0,115.5 L468.0,115.5 L470.0,115.5 L472.0,115.5 L474.0,115.5 L476.0,115.5 L478.0,115.5 L480.0,115.5 L482.0,115.5 L484.0,115.5 L486.0,115.5 L488.0,115.5 L490.0,115.5 L492.0,115.5 L494.0,115.5 L496.0,115.5 L498.0,115.5 L500.0,115.5 L502.0,115.5 L504.0,115.5 L506.0,115.4 L508.0,115.4 L510.0,115.4 L512.0,115.4 L514.0,115.3 L516.0,115.2 L518.0,115.2 L520.0,115.0 L522.0,114.9 L524.0,114.7 L526.0,114.5 L528.0,114.2 L530.0,113.8 L532.0,113.4 L534.0,112.8 L536.0,112.1 L538.0,111.2 L540.0,110.1 L542.0,108.8 L544.0,107.3 L546.0,105.6 L548.0,103.5 L550.0,101.3 L552.0,98.7 L554.0,95.9 L556.0,92.9 L558.0,89.6 L560.0,86.3 L562.0,82.8 L564.0,79.2 L566.0,75.6 L568.0,72.1 L570.0,68.7 L572.0,65.3 L574.0,62.2 L576.0,59.1 L578.0,56.3 L580.0,53.7 L582.0,51.3 L584.0,49.1 L586.0,47.2 L588.0,45.4 L590.0,43.7 L592.0,42.3 L594.0,41.0 L596.0,39.9 L598.0,38.9 L600.0,38.0 L602.0,37.2 L604.0,36.5 L606.0,35.9 L608.0,35.4 L610.0,34.9 L612.0,34.5 L614.0,34.1 L616.0,33.8 L618.0,33.6 L620.0,33.3 L622.0,33.1 L624.0,33.0 L626.0,32.8 L628.0,32.7 L630.0,32.6 L632.0,32.5 L634.0,32.4 L636.0,32.3 L638.0,32.2 L640.0,32.2 L642.0,32.1 L644.0,32.1 L646.0,32.0 L648.0,32.0 L650.0,32.0 L652.0,32.0 L654.0,31.9 L656.0,31.9 L658.0,31.9 L660.0,31.9 L662.0,31.9 L664.0,31.9 L666.0,31.9 L668.0,31.8 L670.0,31.8 L673.0,31.8" stroke="#7db6f6" stroke-width="0.9" fill="none"/>
<path d="M374.0,115.4 L376.0,115.4 L378.0,115.4 L380.0,115.4 L382.0,115.4 L384.0,115.4 L386.0,115.4 L388.0,115.4 L390.0,115.4 L392.0,115.4 L394.0,115.4 L396.0,115.4 L398.0,115.4 L400.0,115.4 L402.0,115.4 L404.0,115.4 L406.0,115.4 L408.0,115.4 L410.0,115.4 L412.0,115.4 L414.0,115.4 L416.0,115.4 L418.0,115.4 L420.0,115.4 L422.0,115.4 L424.0,115.4 L426.0,115.4 L428.0,115.4 L430.0,115.4 L432.0,115.4 L434.0,115.4 L436.0,115.4 L438.0,115.4 L440.0,115.4 L442.0,115.4 L444.0,115.4 L446.0,115.4 L448.0,115.4 L450.0,115.4 L452.0,115.4 L454.0,115.4 L456.0,115.4 L458.0,115.4 L460.0,115.4 L462.0,115.4 L464.0,115.4 L466.0,115.4 L468.0,115.4 L470.0,115.4 L472.0,115.4 L474.0,115.4 L476.0,115.4 L478.0,115.4 L480.0,115.4 L482.0,115.4 L484.0,115.4 L486.0,115.4 L488.0,115.4 L490.0,115.4 L492.0,115.4 L494.0,115.4 L496.0,115.4 L498.0,115.4 L500.0,115.4 L502.0,115.4 L504.0,115.3 L506.0,115.3 L508.0,115.3 L510.0,115.3 L512.0,115.2 L514.0,115.2 L516.0,115.1 L518.0,115.0 L520.0,114.9 L522.0,114.7 L524.0,114.5 L526.0,114.2 L528.0,113.9 L530.0,113.5 L532.0,113.0 L534.0,112.3 L536.0,111.5 L538.0,110.6 L540.0,109.4 L542.0,108.0 L544.0,106.4 L546.0,104.5 L548.0,102.3 L550.0,99.9 L552.0,97.1 L554.0,94.1 L556.0,90.9 L558.0,87.5 L560.0,83.9 L562.0,80.2 L564.0,76.4 L566.0,72.7 L568.0,69.0 L570.0,65.4 L572.0,62.0 L574.0,58.7 L576.0,55.6 L578.0,52.7 L580.0,50.0 L582.0,47.6 L584.0,45.4 L586.0,43.4 L588.0,41.5 L590.0,39.9 L592.0,38.5 L594.0,37.2 L596.0,36.1 L598.0,35.1 L600.0,34.2 L602.0,33.4 L604.0,32.8 L606.0,32.2 L608.0,31.7 L610.0,31.2 L612.0,30.8 L614.0,30.5 L616.0,30.2 L618.0,29.9 L620.0,29.7 L622.0,29.5 L624.0,29.4 L626.0,29.2 L628.0,29.1 L630.0,29.0 L632.0,28.9 L634.0,28.8 L636.0,28.7 L638.0,28.7 L640.0,28.6 L642.0,28.6 L644.0,28.5 L646.0,28.5 L648.0,28.5 L650.0,28.5 L652.0,28.4 L654.0,28.4 L656.0,28.4 L658.0,28.4 L660.0,28.4 L662.0,28.4 L664.0,28.4 L666.0,28.3 L668.0,28.3 L670.0,28.3 L673.0,28.3" stroke="#7db6f6" stroke-width="0.9" fill="none"/>
<path d="M374.5,115.3 L445,115.4 C460,116.3 495,116.5 512,115.9 L530,115.3" stroke="#68aaf2" stroke-width="1.1" fill="none"/>
<path d="M374.5,115.2 H378" stroke="#3a80e0" stroke-width="1.1" fill="none"/>
<path d="M388.7,115.3 H400.4 M438.9,115.4 H444.8 M456.4,115.7 H463.4 M468,115.8 H474 M486.8,115.9 H492.6 M511.4,115.8 H519.5" stroke="#f0a080" stroke-width="0.9" fill="none"/>
<text x="552.60" y="66.80" font-size="9.00" text-anchor="middle" font-weight="normal" fill="#141414" textLength="32.70" lengthAdjust="spacingAndGlyphs">20 ng/µl</text>
<text x="636.50" y="112.20" font-size="9.00" text-anchor="middle" font-weight="normal" fill="#141414" textLength="45.10" lengthAdjust="spacingAndGlyphs">0.025 ng/µl</text>
<text x="166.20" y="165.30" font-size="7.20" text-anchor="middle" font-weight="normal" fill="#141414" textLength="67.60" lengthAdjust="spacingAndGlyphs" stroke="#141414" stroke-width="0.18">Fluorescence History</text>
<rect x="29" y="169" width="300" height="108" fill="#fff"/>
<path d="M29.0,169.5 H329.0 M29.5,169.0 V277.0" stroke="#5f6266" stroke-width="1" fill="none"/>
<path d="M30.0,276.5 H329.0 M328.5,170.0 V277.0" stroke="#a0a2a6" stroke-width="1" fill="none"/>
<path d="M27.5,180.00 H29.5 M27.5,187.94 H29.5 M27.5,195.89 H29.5 M27.5,203.84 H29.5 M27.5,211.78 H29.5 M27.5,219.72 H29.5 M27.5,227.67 H29.5 M27.5,235.62 H29.5 M27.5,243.56 H29.5 M27.5,251.50 H29.5 M27.5,259.45 H29.5 M27.5,267.39 H29.5 " stroke="#707070" stroke-width="0.8"/>
<text x="28.00" y="182.38" font-size="6.60" text-anchor="end" font-weight="normal" fill="#2a2d33" textLength="14.76" lengthAdjust="spacingAndGlyphs">110.0</text>
<text x="28.00" y="190.32" font-size="6.60" text-anchor="end" font-weight="normal" fill="#2a2d33" textLength="14.76" lengthAdjust="spacingAndGlyphs">100.0</text>
<text x="28.00" y="198.27" font-size="6.60" text-anchor="end" font-weight="normal" fill="#2a2d33" textLength="11.48" lengthAdjust="spacingAndGlyphs">90.0</text>
<text x="28.00" y="206.21" font-size="6.60" text-anchor="end" font-weight="normal" fill="#2a2d33" textLength="11.48" lengthAdjust="spacingAndGlyphs">80.0</text>
<text x="28.00" y="214.16" font-size="6.60" text-anchor="end" font-weight="normal" fill="#2a2d33" textLength="11.48" lengthAdjust="spacingAndGlyphs">70.0</text>
<text x="28.00" y="222.10" font-size="6.60" text-anchor="end" font-weight="normal" fill="#2a2d33" textLength="11.48" lengthAdjust="spacingAndGlyphs">60.0</text>
<text x="28.00" y="230.05" font-size="6.60" text-anchor="end" font-weight="normal" fill="#2a2d33" textLength="11.48" lengthAdjust="spacingAndGlyphs">50.0</text>
<text x="28.00" y="237.99" font-size="6.60" text-anchor="end" font-weight="normal" fill="#2a2d33" textLength="11.48" lengthAdjust="spacingAndGlyphs">40.0</text>
<text x="28.00" y="245.94" font-size="6.60" text-anchor="end" font-weight="normal" fill="#2a2d33" textLength="11.48" lengthAdjust="spacingAndGlyphs">30.0</text>
<text x="28.00" y="253.88" font-size="6.60" text-anchor="end" font-weight="normal" fill="#2a2d33" textLength="11.48" lengthAdjust="spacingAndGlyphs">20.0</text>
<text x="28.00" y="261.83" font-size="6.60" text-anchor="end" font-weight="normal" fill="#2a2d33" textLength="11.48" lengthAdjust="spacingAndGlyphs">10.0</text>
<text x="28.00" y="269.77" font-size="6.60" text-anchor="end" font-weight="normal" fill="#2a2d33" textLength="8.20" lengthAdjust="spacingAndGlyphs">0.0</text>
<path d="M30.80,277.0 V279.0 M42.88,277.0 V279.0 M54.96,277.0 V279.0 M67.04,277.0 V279.0 M79.12,277.0 V279.0 M97.24,277.0 V279.0 M121.40,277.0 V279.0 M145.56,277.0 V279.0 M169.72,277.0 V279.0 M193.88,277.0 V279.0 M218.04,277.0 V279.0 M242.20,277.0 V279.0 M266.36,277.0 V279.0 M290.52,277.0 V279.0 M314.68,277.0 V279.0 " stroke="#707070" stroke-width="0.8"/>
<text x="30.80" y="283.80" font-size="7.00" text-anchor="middle" font-weight="normal" fill="#2a2d33" textLength="3.34" lengthAdjust="spacingAndGlyphs">1</text>
<text x="42.88" y="283.80" font-size="7.00" text-anchor="middle" font-weight="normal" fill="#2a2d33" textLength="3.34" lengthAdjust="spacingAndGlyphs">3</text>
<text x="54.96" y="283.80" font-size="7.00" text-anchor="middle" font-weight="normal" fill="#2a2d33" textLength="3.34" lengthAdjust="spacingAndGlyphs">5</text>
<text x="67.04" y="283.80" font-size="7.00" text-anchor="middle" font-weight="normal" fill="#2a2d33" textLength="3.34" lengthAdjust="spacingAndGlyphs">7</text>
<text x="79.12" y="283.80" font-size="7.00" text-anchor="middle" font-weight="normal" fill="#2a2d33" textLength="3.34" lengthAdjust="spacingAndGlyphs">9</text>
<text x="97.24" y="283.80" font-size="7.00" text-anchor="middle" font-weight="normal" fill="#2a2d33" textLength="6.67" lengthAdjust="spacingAndGlyphs">12</text>
<text x="121.40" y="283.80" font-size="7.00" text-anchor="middle" font-weight="normal" fill="#2a2d33" textLength="6.67" lengthAdjust="spacingAndGlyphs">16</text>
<text x="145.56" y="283.80" font-size="7.00" text-anchor="middle" font-weight="normal" fill="#2a2d33" textLength="6.67" lengthAdjust="spacingAndGlyphs">20</text>
<text x="169.72" y="283.80" font-size="7.00" text-anchor="middle" font-weight="normal" fill="#2a2d33" textLength="6.67" lengthAdjust="spacingAndGlyphs">24</text>
<text x="193.88" y="283.80" font-size="7.00" text-anchor="middle" font-weight="normal" fill="#2a2d33" textLength="6.67" lengthAdjust="spacingAndGlyphs">28</text>
<text x="218.04" y="283.80" font-size="7.00" text-anchor="middle" font-weight="normal" fill="#2a2d33" textLength="6.67" lengthAdjust="spacingAndGlyphs">32</text>
<text x="242.20" y="283.80" font-size="7.00" text-anchor="middle" font-weight="normal" fill="#2a2d33" textLength="6.67" lengthAdjust="spacingAndGlyphs">36</text>
<text x="266.36" y="283.80" font-size="7.00" text-anchor="middle" font-weight="normal" fill="#2a2d33" textLength="6.67" lengthAdjust="spacingAndGlyphs">40</text>
<text x="290.52" y="283.80" font-size="7.00" text-anchor="middle" font-weight="normal" fill="#2a2d33" textLength="6.67" lengthAdjust="spacingAndGlyphs">44</text>
<text x="314.68" y="283.80" font-size="7.00" text-anchor="middle" font-weight="normal" fill="#2a2d33" textLength="6.67" lengthAdjust="spacingAndGlyphs">48</text>
<text x="178.60" y="291.00" font-size="6.40" text-anchor="middle" font-weight="bold" fill="#141414" textLength="19.00" lengthAdjust="spacingAndGlyphs">Cycles</text>
<text transform="translate(9.80,223.20) rotate(-90)" x="0" y="0" font-size="7.00" text-anchor="middle" font-weight="bold" fill="#141414" textLength="67.00" lengthAdjust="spacingAndGlyphs">Fluorescence (465-510)</text>
<text x="325.60" y="176.40" font-size="8.00" text-anchor="end" font-weight="normal" fill="#141414" stroke="#141414" stroke-width="0.20">c</text>
<path d="M31.00,267.40 C31.33,267.40 32.33,267.40 33.00,267.40 C33.67,267.40 34.33,267.40 35.00,267.40 C35.67,267.40 36.33,267.40 37.00,267.40 C37.67,267.40 38.33,267.40 39.00,267.40 C39.67,267.40 40.33,267.40 41.00,267.40 C41.67,267.40 42.33,267.40 43.00,267.40 C43.67,267.40 44.33,267.40 45.00,267.40 C45.67,267.40 46.33,267.40 47.00,267.40 C47.67,267.40 48.33,267.40 49.00,267.40 C49.67,267.40 50.33,267.40 51.00,267.40 C51.67,267.40 52.33,267.40 53.00,267.40 C53.67,267.40 54.33,267.40 55.00,267.40 C55.67,267.40 56.33,267.40 57.00,267.40 C57.67,267.40 58.33,267.40 59.00,267.40 C59.67,267.40 60.33,267.40 61.00,267.40 C61.67,267.40 62.33,267.40 63.00,267.40 C63.67,267.40 64.33,267.40 65.00,267.40 C65.67,267.40 66.33,267.40 67.00,267.40 C67.67,267.40 68.33,267.40 69.00,267.40 C69.67,267.40 70.33,267.40 71.00,267.40 C71.67,267.40 72.33,267.40 73.00,267.40 C73.67,267.40 74.33,267.40 75.00,267.40 C75.67,267.40 76.33,267.40 77.00,267.40 C77.67,267.40 78.33,267.40 79.00,267.40 C79.67,267.40 80.33,267.40 81.00,267.40 C81.67,267.40 82.33,267.40 83.00,267.40 C83.67,267.40 84.33,267.40 85.00,267.40 C85.67,267.40 86.33,267.40 87.00,267.40 C87.67,267.40 88.33,267.40 89.00,267.40 C89.67,267.40 90.33,267.40 91.00,267.40 C91.67,267.40 92.33,267.40 93.00,267.40 C93.67,267.40 94.33,267.40 95.00,267.40 C95.67,267.40 96.33,267.40 97.00,267.40 C97.67,267.40 98.33,267.40 99.00,267.40 C99.67,267.40 100.33,267.40 101.00,267.40 C101.67,267.40 102.33,267.40 103.00,267.40 C103.67,267.40 104.33,267.40 105.00,267.40 C105.67,267.40 106.33,267.40 107.00,267.40 C107.67,267.40 108.33,267.40 109.00,267.40 C109.67,267.40 110.33,267.40 111.00,267.40 C111.67,267.40 112.33,267.40 113.00,267.40 C113.67,267.40 114.33,267.40 115.00,267.40 C115.67,267.40 116.33,267.40 117.00,267.40 C117.67,267.40 118.33,267.40 119.00,267.40 C119.67,267.40 120.33,267.40 121.00,267.40 C121.67,267.40 122.33,267.40 123.00,267.40 C123.67,267.40 124.33,267.40 125.00,267.40 C125.67,267.40 126.33,267.40 127.00,267.40 C127.67,267.40 128.33,267.40 129.00,267.40 C129.67,267.39 130.33,267.39 131.00,267.39 C131.67,267.39 132.33,267.39 133.00,267.39 C133.67,267.39 134.33,267.39 135.00,267.39 C135.67,267.39 136.33,267.38 137.00,267.38 C137.67,267.38 138.33,267.38 139.00,267.38 C139.67,267.37 140.33,267.37 141.00,267.37 C141.67,267.36 142.33,267.36 143.00,267.36 C143.67,267.35 144.33,267.34 145.00,267.34 C145.67,267.33 146.33,267.32 147.00,267.32 C147.67,267.31 148.33,267.30 149.00,267.28 C149.67,267.27 150.33,267.26 151.00,267.24 C151.67,267.22 152.33,267.21 153.00,267.18 C153.67,267.16 154.33,267.14 155.00,267.10 C155.67,267.07 156.33,267.04 157.00,267.00 C157.67,266.96 158.33,266.91 159.00,266.85 C159.67,266.80 160.33,266.74 161.00,266.66 C161.67,266.59 162.33,266.51 163.00,266.41 C163.67,266.31 164.33,266.20 165.00,266.07 C165.67,265.93 166.33,265.79 167.00,265.62 C167.67,265.44 168.33,265.26 169.00,265.03 C169.67,264.81 170.33,264.56 171.00,264.28 C171.67,263.99 172.33,263.67 173.00,263.31 C173.67,262.95 174.33,262.55 175.00,262.09 C175.67,261.63 176.33,261.14 177.00,260.57 C177.67,260.01 178.33,259.40 179.00,258.72 C179.67,258.04 180.33,257.30 181.00,256.49 C181.67,255.69 182.33,254.81 183.00,253.87 C183.67,252.93 184.33,251.92 185.00,250.84 C185.67,249.77 186.33,248.62 187.00,247.43 C187.67,246.23 188.33,244.97 189.00,243.66 C189.67,242.36 190.33,240.99 191.00,239.61 C191.67,238.22 192.33,236.78 193.00,235.34 C193.67,233.90 194.33,232.43 195.00,230.97 C195.67,229.50 196.33,228.02 197.00,226.57 C197.67,225.12 198.33,223.66 199.00,222.25 C199.67,220.84 200.33,219.44 201.00,218.10 C201.67,216.75 202.33,215.43 203.00,214.17 C203.67,212.91 204.33,211.69 205.00,210.53 C205.67,209.37 206.33,208.26 207.00,207.20 C207.67,206.15 208.33,205.15 209.00,204.20 C209.67,203.26 210.33,202.37 211.00,201.53 C211.67,200.70 212.33,199.92 213.00,199.18 C213.67,198.45 214.33,197.77 215.00,197.13 C215.67,196.49 216.33,195.91 217.00,195.36 C217.67,194.81 218.33,194.30 219.00,193.83 C219.67,193.36 220.33,192.93 221.00,192.53 C221.67,192.13 222.33,191.76 223.00,191.42 C223.67,191.08 224.33,190.77 225.00,190.48 C225.67,190.19 226.33,189.93 227.00,189.69 C227.67,189.44 228.33,189.23 229.00,189.02 C229.67,188.82 230.33,188.63 231.00,188.46 C231.67,188.29 232.33,188.14 233.00,187.99 C233.67,187.85 234.33,187.72 235.00,187.60 C235.67,187.48 236.33,187.37 237.00,187.27 C237.67,187.17 238.33,187.08 239.00,187.00 C239.67,186.92 240.33,186.84 241.00,186.77 C241.67,186.71 242.50,186.73 243.00,186.59 C243.50,186.44 243.33,186.06 244.00,185.90 C244.67,185.74 246.08,185.77 247.00,185.60 C247.92,185.43 248.67,184.92 249.50,184.90 C250.33,184.88 250.92,185.38 252.00,185.50 C253.08,185.62 254.65,185.67 256.00,185.60 C257.35,185.53 258.93,185.05 260.10,185.10 C261.27,185.15 259.63,185.68 263.00,185.90 C266.37,186.12 273.18,186.33 280.30,186.40 C287.42,186.47 297.92,186.17 305.70,186.30 C313.48,186.43 323.45,187.05 327.00,187.20" stroke="#7db6f6" stroke-width="0.9" fill="none"/>
<path d="M31.00,267.50 C59.17,267.50 166.83,267.52 200.00,267.50 C233.17,267.48 223.33,267.44 230.00,267.40 C236.67,267.36 237.50,267.33 240.00,267.25 C242.50,267.17 243.33,267.24 245.00,266.90 C246.67,266.56 248.33,266.10 250.00,265.20 C251.67,264.30 253.33,263.12 255.00,261.50 C256.67,259.88 258.33,257.87 260.00,255.50 C261.67,253.13 263.33,250.38 265.00,247.30 C266.67,244.22 268.33,240.72 270.00,237.00 C271.67,233.28 273.33,228.92 275.00,225.00 C276.67,221.08 278.33,217.08 280.00,213.50 C281.67,209.92 283.33,206.50 285.00,203.50 C286.67,200.50 288.33,197.87 290.00,195.50 C291.67,193.13 293.33,191.10 295.00,189.30 C296.67,187.50 298.33,186.00 300.00,184.70 C301.67,183.40 303.33,182.35 305.00,181.50 C306.67,180.65 307.83,180.10 310.00,179.60 C312.17,179.10 315.17,178.75 318.00,178.50 C320.83,178.25 325.50,178.17 327.00,178.10" stroke="#7db6f6" stroke-width="0.9" fill="none"/>
<path d="M30.5,267.6 H246" stroke="#8cc2f4" stroke-width="1.4" fill="none"/>
<path d="M245.00,267.80 C247.45,267.83 253.97,268.13 259.70,268.00 C265.43,267.87 273.92,267.55 279.40,267.00 C284.88,266.45 288.22,265.73 292.60,264.70 C296.98,263.67 301.55,261.85 305.70,260.80 C309.85,259.75 314.02,259.08 317.50,258.40 C320.98,257.72 325.08,256.98 326.60,256.70" stroke="#5aa0f0" stroke-width="0.7" fill="none"/>
<path d="M243.00,267.40 C243.83,267.37 245.83,267.45 248.00,267.20 C250.17,266.95 252.95,266.32 256.00,265.90 C259.05,265.48 262.40,265.45 266.30,264.70 C270.20,263.95 275.02,262.27 279.40,261.40 C283.78,260.53 288.17,260.13 292.60,259.50 C297.03,258.87 300.33,258.12 306.00,257.60 C311.67,257.08 323.17,256.60 326.60,256.40" stroke="#60c8e0" stroke-width="0.7" fill="none"/>
<path d="M243.00,267.40 C243.83,267.37 245.83,267.52 248.00,267.20 C250.17,266.88 252.95,266.13 256.00,265.50 C259.05,264.87 262.40,264.30 266.30,263.40 C270.20,262.50 275.02,260.98 279.40,260.10 C283.78,259.22 288.07,258.52 292.60,258.10 C297.13,257.68 300.93,257.77 306.60,257.60 C312.27,257.43 323.27,257.18 326.60,257.10" stroke="#40c040" stroke-width="0.7" fill="none"/>
<path d="M242.00,267.40 C242.83,267.35 244.83,267.43 247.00,267.10 C249.17,266.77 251.50,266.25 255.00,265.40 C258.50,264.55 263.67,263.10 268.00,262.00 C272.33,260.90 276.67,259.70 281.00,258.80 C285.33,257.90 289.67,257.13 294.00,256.60 C298.33,256.07 301.57,255.78 307.00,255.60 C312.43,255.42 323.33,255.52 326.60,255.50" stroke="#303090" stroke-width="0.7" fill="none"/>
<path d="M240.00,267.40 C241.00,267.33 243.67,267.40 246.00,267.00 C248.33,266.60 250.50,265.90 254.00,265.00 C257.50,264.10 262.67,262.72 267.00,261.60 C271.33,260.48 275.67,259.20 280.00,258.30 C284.33,257.40 288.67,256.72 293.00,256.20 C297.33,255.68 300.67,255.43 306.00,255.20 C311.33,254.97 321.83,254.87 325.00,254.80" stroke="#e070b0" stroke-width="0.7" fill="none"/>
<path d="M240.00,267.30 C240.83,267.22 242.82,267.28 245.00,266.80 C247.18,266.32 249.55,265.40 253.10,264.40 C256.65,263.40 261.92,261.95 266.30,260.80 C270.68,259.65 275.02,258.38 279.40,257.50 C283.78,256.62 288.22,255.98 292.60,255.50 C296.98,255.02 300.47,254.78 305.70,254.60 C310.93,254.42 320.95,254.43 324.00,254.40" stroke="#ff5050" stroke-width="0.7" fill="none"/>
<path d="M31,267.5 H34.5 M58,267.9 H63 M99,267.9 H104 M120,268.0 H126 M135,267.8 H141 M152,267.6 H158" stroke="#3a80e0" stroke-width="1.1" fill="none"/>
<path d="M31,267.4 H33" stroke="#503090" stroke-width="1.1" fill="none"/>
<path d="M88,267.5 H96 M121,267.4 H124 M133,267.7 H140 M172,267.4 H176" stroke="#e07a90" stroke-width="0.9" fill="none"/>
<path d="M33,267.7 H38 M65,267.5 H72 M112,267.3 H117 M138,267.6 H142 M180,267.5 H187 M221,267.5 H227" stroke="#40c070" stroke-width="0.9" fill="none"/>
<path d="M45,267.8 H56 M75,267.6 H86 M145,267.9 H152 M163,267.6 H170" stroke="#60c8e8" stroke-width="1" fill="none"/>
<text x="187.50" y="218.20" font-size="9.00" text-anchor="middle" font-weight="normal" fill="#141414" textLength="24.40" lengthAdjust="spacingAndGlyphs">gDNA</text>
<text x="267.00" y="251.80" font-size="9.00" text-anchor="middle" font-weight="normal" fill="#141414" textLength="109.40" lengthAdjust="spacingAndGlyphs">Degraded template(&lt;61bp)</text>
<text x="512.10" y="170.10" font-size="7.40" text-anchor="middle" font-weight="normal" fill="#141414" textLength="54.60" lengthAdjust="spacingAndGlyphs" stroke="#141414" stroke-width="0.18">Standard Curve</text>
<rect x="367" y="174" width="308" height="103" fill="#fff"/>
<path d="M367.0,174.5 H675.0 M367.5,174.0 V277.0" stroke="#5f6266" stroke-width="1" fill="none"/>
<path d="M368.0,276.5 H675.0 M674.5,175.0 V277.0" stroke="#a0a2a6" stroke-width="1" fill="none"/>
<path d="M365.5,187.60 H367.5 M365.5,196.42 H367.5 M365.5,205.24 H367.5 M365.5,214.06 H367.5 M365.5,222.88 H367.5 M365.5,231.70 H367.5 M365.5,240.52 H367.5 M365.5,249.34 H367.5 M365.5,258.16 H367.5 M365.5,266.98 H367.5 " stroke="#707070" stroke-width="0.8"/>
<text x="365.80" y="189.98" font-size="6.60" text-anchor="end" font-weight="normal" fill="#2a2d33" textLength="6.89" lengthAdjust="spacingAndGlyphs">36</text>
<text x="365.80" y="198.80" font-size="6.60" text-anchor="end" font-weight="normal" fill="#2a2d33" textLength="6.89" lengthAdjust="spacingAndGlyphs">35</text>
<text x="365.80" y="207.62" font-size="6.60" text-anchor="end" font-weight="normal" fill="#2a2d33" textLength="6.89" lengthAdjust="spacingAndGlyphs">34</text>
<text x="365.80" y="216.44" font-size="6.60" text-anchor="end" font-weight="normal" fill="#2a2d33" textLength="6.89" lengthAdjust="spacingAndGlyphs">33</text>
<text x="365.80" y="225.26" font-size="6.60" text-anchor="end" font-weight="normal" fill="#2a2d33" textLength="6.89" lengthAdjust="spacingAndGlyphs">32</text>
<text x="365.80" y="234.08" font-size="6.60" text-anchor="end" font-weight="normal" fill="#2a2d33" textLength="6.89" lengthAdjust="spacingAndGlyphs">31</text>
<text x="365.80" y="242.90" font-size="6.60" text-anchor="end" font-weight="normal" fill="#2a2d33" textLength="6.89" lengthAdjust="spacingAndGlyphs">30</text>
<text x="365.80" y="251.72" font-size="6.60" text-anchor="end" font-weight="normal" fill="#2a2d33" textLength="6.89" lengthAdjust="spacingAndGlyphs">29</text>
<text x="365.80" y="260.54" font-size="6.60" text-anchor="end" font-weight="normal" fill="#2a2d33" textLength="6.89" lengthAdjust="spacingAndGlyphs">28</text>
<text x="365.80" y="269.36" font-size="6.60" text-anchor="end" font-weight="normal" fill="#2a2d33" textLength="6.89" lengthAdjust="spacingAndGlyphs">27</text>
<path d="M370.30,277.0 V279.0 M417.60,277.0 V279.0 M464.90,277.0 V279.0 M512.20,277.0 V279.0 M559.50,277.0 V279.0 M606.80,277.0 V279.0 M654.10,277.0 V279.0 " stroke="#707070" stroke-width="0.8"/>
<text x="370.30" y="284.00" font-size="7.00" text-anchor="middle" font-weight="normal" fill="#2a2d33" textLength="10.34" lengthAdjust="spacingAndGlyphs">-2.5</text>
<text x="417.60" y="284.00" font-size="7.00" text-anchor="middle" font-weight="normal" fill="#2a2d33" textLength="5.33" lengthAdjust="spacingAndGlyphs">-2</text>
<text x="464.90" y="284.00" font-size="7.00" text-anchor="middle" font-weight="normal" fill="#2a2d33" textLength="10.34" lengthAdjust="spacingAndGlyphs">-1.5</text>
<text x="512.20" y="284.00" font-size="7.00" text-anchor="middle" font-weight="normal" fill="#2a2d33" textLength="5.33" lengthAdjust="spacingAndGlyphs">-1</text>
<text x="559.50" y="284.00" font-size="7.00" text-anchor="middle" font-weight="normal" fill="#2a2d33" textLength="10.34" lengthAdjust="spacingAndGlyphs">-0.5</text>
<text x="606.80" y="284.00" font-size="7.00" text-anchor="middle" font-weight="normal" fill="#2a2d33" textLength="3.34" lengthAdjust="spacingAndGlyphs">0</text>
<text x="654.10" y="284.00" font-size="7.00" text-anchor="middle" font-weight="normal" fill="#2a2d33" textLength="8.34" lengthAdjust="spacingAndGlyphs">0.5</text>
<text x="520.80" y="291.00" font-size="6.40" text-anchor="middle" font-weight="bold" fill="#141414" textLength="55.10" lengthAdjust="spacingAndGlyphs">Log Concentration</text>
<text transform="translate(356.10,225.10) rotate(-90)" x="0" y="0" font-size="7.00" text-anchor="middle" font-weight="bold" fill="#141414" textLength="43.40" lengthAdjust="spacingAndGlyphs">Crossing Point</text>
<text x="672.30" y="183.00" font-size="8.50" text-anchor="end" font-weight="normal" fill="#141414">d</text>
<path d="M368.00,181.40 C372.05,182.08 383.87,184.00 392.30,185.50 C400.73,187.00 409.85,188.73 418.60,190.40 C427.35,192.07 434.57,193.27 444.80,195.50 C455.03,197.73 471.22,201.55 480.00,203.80 C488.78,206.05 489.90,206.42 497.50,209.00 C505.10,211.58 515.47,215.75 525.60,219.30 C535.73,222.85 543.23,225.10 558.30,230.30 C573.37,235.50 596.80,244.03 616.00,250.50 C635.20,256.97 663.92,266.00 673.50,269.10" stroke="#7474f6" stroke-width="0.9" fill="none"/>
<rect x="444.6" y="194.6" width="2.4" height="2.8" rx="0.9" fill="#12f012"/>
<rect x="496.3" y="205.8" width="2.4" height="2.8" rx="0.9" fill="#12f012"/>
<rect x="556.4" y="229.4" width="2.4" height="2.8" rx="0.9" fill="#12f012"/>
<rect x="556.4" y="231.9" width="2.4" height="2.8" rx="0.9" fill="#12f012"/>
<rect x="556.4" y="234.2" width="2.4" height="2.8" rx="0.9" fill="#12f012"/>
<rect x="614.8" y="249.0" width="2.4" height="2.8" rx="0.9" fill="#12f012"/>
<rect x="671.8" y="267.0" width="2.4" height="2.8" rx="0.9" fill="#12f012"/>
<text x="594.20" y="210.20" font-size="9.00" text-anchor="start" font-weight="normal" fill="#141414" textLength="66.20" lengthAdjust="spacingAndGlyphs">Efficiency: 1.860</text>
<text x="594.20" y="220.80" font-size="9.00" text-anchor="start" font-weight="normal" fill="#141414">Slope: -3.711</text>
<text x="594.20" y="231.50" font-size="9.00" text-anchor="start" font-weight="normal" fill="#141414" textLength="69.00" lengthAdjust="spacingAndGlyphs">YIntercept: 29.24</text>
</svg>
</body></html>
